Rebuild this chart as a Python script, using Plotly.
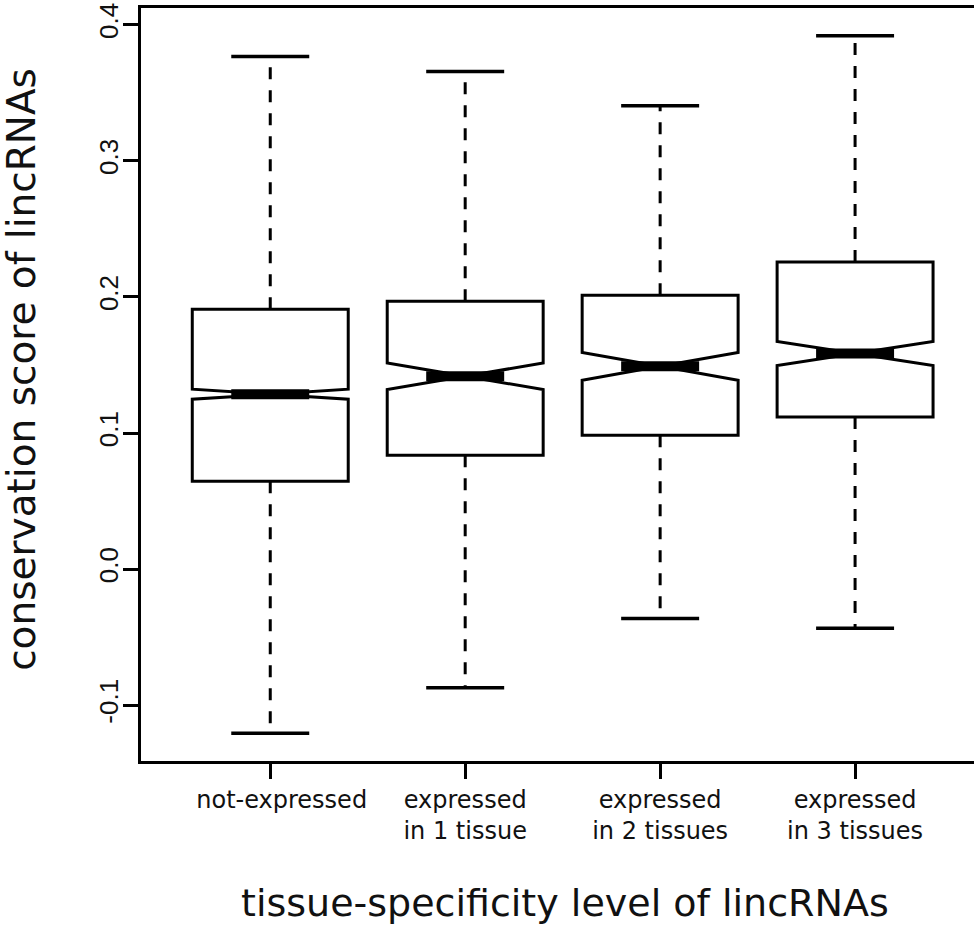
import plotly.graph_objects as go

# ---- data ----
categories = ["\u00a0\u00a0\u00a0not-expressed", "expressed<br>in 1 tissue",
              "expressed<br>in 2 tissues", "expressed<br>in 3 tissues"]
positions = [0, 1, 2, 3]
lower_whisker = [-0.1206, -0.0871, -0.0362, -0.0435]
q1_values = [0.0646, 0.0837, 0.0984, 0.1118]
medians = [0.1285, 0.1417, 0.1490, 0.1584]
q3_values = [0.1909, 0.1968, 0.2012, 0.2256]
upper_whisker = [0.3767, 0.3656, 0.3405, 0.3920]
notch_spans = [0.0037, 0.0098, 0.0102, 0.0088]
y_tick_values = [-0.1, 0.0, 0.1, 0.2, 0.3, 0.4]
y_tick_labels = ["-0.1", "0.0", "0.1", "0.2", "0.3", "0.4"]

BOX_W = 0.8
HALF_INNER = BOX_W / 2 * 0.5   # notch inner half width / cap half width

fig = go.Figure()

# notched boxes (no whiskers here)
fig.add_trace(go.Box(
    x=positions, q1=q1_values, median=medians, q3=q3_values,
    lowerfence=q1_values, upperfence=q3_values, notchspan=notch_spans,
    notched=True, notchwidth=0.5, width=BOX_W, whiskerwidth=0,
    fillcolor="white", line=dict(color="black", width=3),
    boxpoints=False, hoverinfo="skip", showlegend=False))

# dashed whiskers
wx, wy = [], []
for p, a, b, c, d in zip(positions, q3_values, upper_whisker, q1_values, lower_whisker):
    wx += [p, p, None, p, p, None]
    wy += [a, b, None, c, d, None]
fig.add_trace(go.Scatter(x=wx, y=wy, mode="lines",
                         line=dict(color="black", width=3, dash="12px,11px"),
                         hoverinfo="skip", showlegend=False))

# whisker caps
cx, cy = [], []
for p, b, d in zip(positions, upper_whisker, lower_whisker):
    cx += [p - HALF_INNER, p + HALF_INNER, None, p - HALF_INNER, p + HALF_INNER, None]
    cy += [b, b, None, d, d, None]
fig.add_trace(go.Scatter(x=cx, y=cy, mode="lines",
                         line=dict(color="black", width=3.5),
                         hoverinfo="skip", showlegend=False))

# thick medians
mx, my = [], []
for p, m in zip(positions, medians):
    mx += [p - HALF_INNER, p + HALF_INNER, None]
    my += [m, m, None]
fig.add_trace(go.Scatter(x=mx, y=my, mode="lines",
                         line=dict(color="black", width=10),
                         hoverinfo="skip", showlegend=False))

fig.update_layout(
    width=974, height=927,
    margin=dict(l=141, r=0, t=8, b=166),
    paper_bgcolor="white", plot_bgcolor="white",
    showlegend=False,
    xaxis=dict(
        range=[-0.663, 3.61], tickmode="array", tickvals=positions,
        ticktext=categories, showgrid=False, zeroline=False,
        showline=True, linecolor="black", linewidth=3, mirror=True,
        ticks="outside", ticklen=15, tickwidth=3, tickcolor="black",
        tickfont=dict(family="DejaVu Sans", size=24, color="#111"),
    ),
    yaxis=dict(
        range=[-0.141, 0.4123], tickmode="array", tickvals=y_tick_values,
        ticktext=y_tick_labels, showgrid=False, zeroline=False,
        showline=True, linecolor="black", linewidth=3,
        ticks="outside", ticklen=15, tickwidth=3, tickcolor="black",
        tickangle=-90, ticklabelstandoff=-5,
        tickfont=dict(family="Liberation Sans", size=26, color="#111"),
    ),
    annotations=[
        dict(text="tissue-specificity level of lincRNAs", xref="paper", yref="paper",
             x=0.509, y=-0.1885, xanchor="center", yanchor="middle", showarrow=False,
             font=dict(family="DejaVu Sans", size=38, color="#111")),
        dict(text="conservation score of lincRNAs", xref="paper", yref="paper",
             x=-0.1436, y=0.52, xanchor="center", yanchor="middle", showarrow=False,
             textangle=-90,
             font=dict(family="DejaVu Sans", size=39, color="#111")),
    ],
)

fig.write_html("out.html", config={"displayModeBar": False},
               post_script="document.body.style.margin='0';document.body.style.overflow='hidden';")
